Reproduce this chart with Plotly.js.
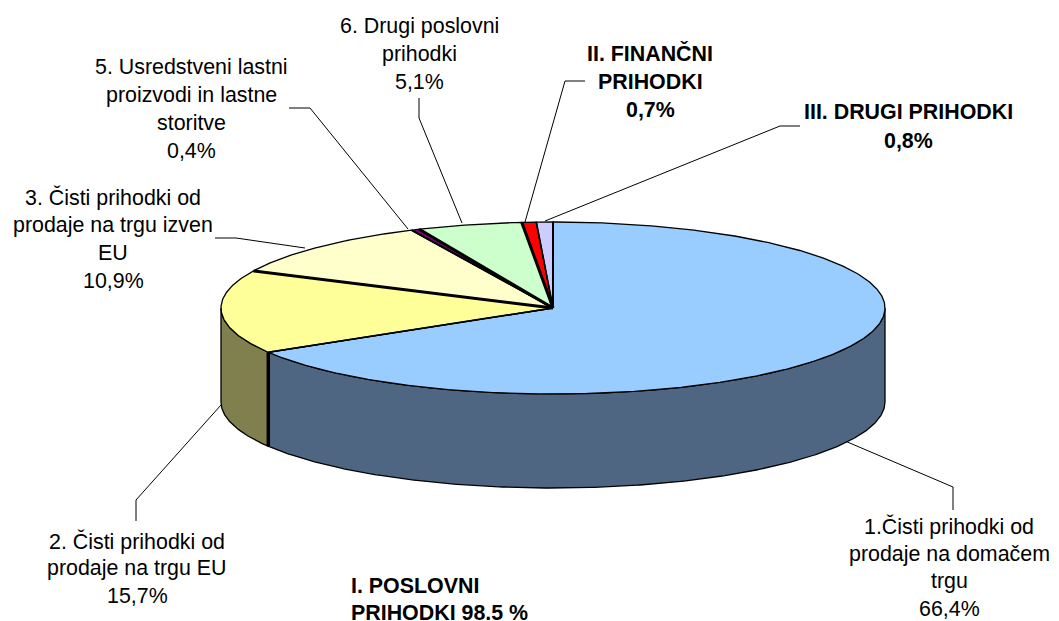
<!DOCTYPE html>
<html><head><meta charset="utf-8">
<script src="https://cdn.plot.ly/plotly-3.0.1.min.js"></script>
<style>html,body{margin:0;padding:0;background:#fff}#c{width:1059px;height:621px}</style>
</head><body><div id="c"></div><script>
// --- data ---
const categories = ["1.Čisti prihodki od prodaje na domačem trgu","2. Čisti prihodki od prodaje na trgu EU","3. Čisti prihodki od prodaje na trgu izven EU","5. Usredstveni lastni proizvodi in lastne storitve","6. Drugi poslovni prihodki","II. FINANČNI PRIHODKI","III. DRUGI PRIHODKI"];
const values = [66.4,15.7,10.9,0.4,5.1,0.7,0.8];
const topColors = ["#99CCFF","#FFFF99","#FFFFCC","#800080","#CCFFCC","#FF0000","#CCCCFF"];
const sideColors = ["#4F6682","#80804F","#80806A","#400040","#6A806A","#800000","#6A6A80"];
const radialWidths = [1.6,3,2,3,3,1.6,2]; // line at the end of each slice

// --- text blocks ---
const labelLines = [
 {lines:["1.Čisti prihodki od","prodaje na domačem","trgu","66,4%"],x:949,y:[526,554,581,609],bold:false},
 {lines:["2. Čisti prihodki od","prodaje na trgu EU","15,7%"],x:137,y:[541,568,596],bold:false},
 {lines:["3. Čisti prihodki od","prodaje na trgu izven","EU","10,9%"],x:113,y:[197,225,253,281],bold:false},
 {lines:["5. Usredstveni lastni","proizvodi in lastne","storitve","0,4%"],x:191,y:[67,95,123,151],bold:false},
 {lines:["6. Drugi poslovni","prihodki","5,1%"],x:419,y:[26,54,82],bold:false},
 {lines:["II. FINANČNI","PRIHODKI","0,7%"],x:650,y:[53,82,110],bold:true},
 {lines:["III. DRUGI PRIHODKI","0,8%"],x:908,y:[112,141],bold:true},
 {lines:["I. POSLOVNI","PRIHODKI 98.5 %"],x:350,y:[586,613],bold:true,left:true}
];

// --- leader lines: [x...],[y...] in page pixels ---
const leaders = [
 [[845,953,953],[441,487,510]],
 [[221,136,136],[405,500,521]],
 [[215,236,305],[238,238,248]],
 [[289,310,408],[108,108,229]],
 [[419,419,462],[98,118,223]],
 [[585,565,525],[81,81,222]],
 [[800,780,545],[126,126,221]]
];

// --- projection of the pie ---
const cx=553, cy=308, rx=332, ry=86, depth=94;
const total = values.reduce((a,b)=>a+b,0);
const px = a => cx + rx*Math.sin(a);
const py = a => cy - ry*Math.cos(a);
const traces = [];
const none = {hoverinfo:'skip',showlegend:false,type:'scatter',mode:'lines'};

leaders.forEach(l=>traces.push({...none,x:l[0],y:l[1],line:{color:'#000',width:1}}));

const edges=[0]; values.forEach((v,i)=>edges.push(edges[i]+v/total*2*Math.PI));
function arc(a,b){const n=Math.max(2,Math.ceil((b-a)/0.01)),o=[];for(let k=0;k<=n;k++)o.push(a+(b-a)*k/n);return o;}

// side walls: only the front half of the rim is visible
values.forEach((v,i)=>{
  const a=Math.max(edges[i],Math.PI/2), b=Math.min(edges[i+1],1.5*Math.PI);
  if(b<=a) return;
  const A=arc(a,b), R=A.slice().reverse();
  traces.push({...none,fill:'toself',fillcolor:sideColors[i],line:{color:'#000',width:1.3},
    x:A.map(px).concat(R.map(px),[px(A[0])]),
    y:A.map(py).concat(R.map(t=>py(t)+depth),[py(A[0])])});
});
// wall dividers between visible slices
values.forEach((v,i)=>{
  const e=edges[i+1];
  if(e>Math.PI/2 && e<1.5*Math.PI) traces.push({...none,x:[px(e),px(e)],y:[py(e),py(e)+depth],line:{color:'#000',width:3.5}});
});
// top face
values.forEach((v,i)=>{
  const A=arc(edges[i],edges[i+1]);
  traces.push({...none,name:categories[i],fill:'toself',fillcolor:topColors[i],line:{color:'#000',width:1.3},
    x:[cx].concat(A.map(px),[cx]),y:[cy].concat(A.map(py),[cy])});
});
// radial separators
values.forEach((v,i)=>{
  const e=edges[i+1];
  traces.push({...none,x:[cx,px(e)],y:[cy,py(e)],line:{color:'#000',width:radialWidths[i]}});
});

const annotations=[];
labelLines.forEach(b=>b.lines.forEach((t,k)=>annotations.push({
  text:b.bold?'<b>'+t+'</b>':t,x:b.x,y:b.y[k],xref:'x',yref:'y',showarrow:false,
  xanchor:b.left?'left':'center',yanchor:'middle',borderpad:0,
  font:{family:'"Liberation Sans",Arial,sans-serif',size:21.4,color:'#000'}
})));

const hidden={visible:false,fixedrange:true};
Plotly.newPlot('c',traces,{
  width:1059,height:621,margin:{l:0,r:0,t:0,b:0},paper_bgcolor:'#fff',plot_bgcolor:'#fff',
  showlegend:false,hovermode:false,annotations,
  xaxis:{...hidden,range:[0,1059]},yaxis:{...hidden,range:[621,0]}
},{displayModeBar:false,staticPlot:true});
</script></body></html>
